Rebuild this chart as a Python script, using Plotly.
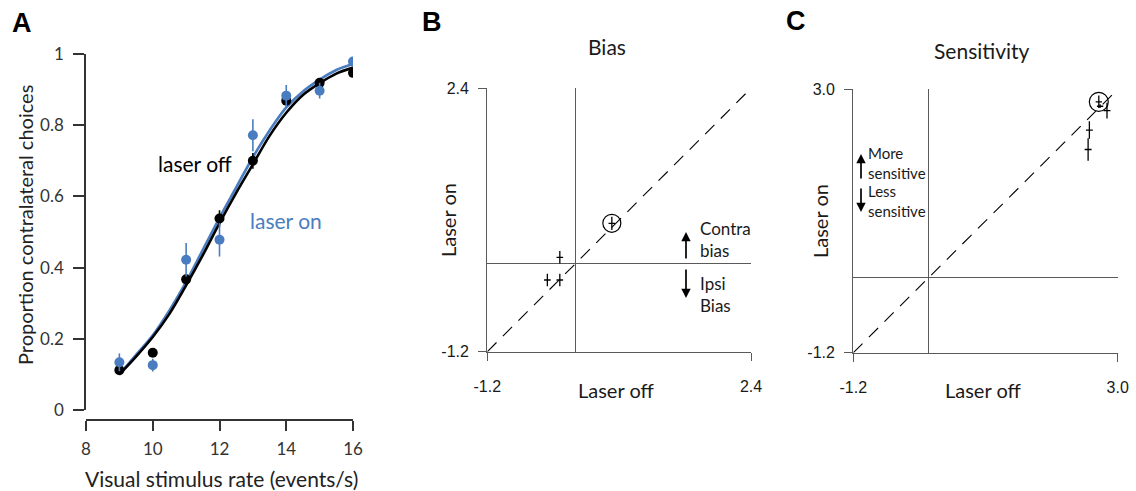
import plotly.graph_objects as go

W, H = 1136, 491

# ---------------- Panel A data ----------------
rates = [9, 10, 11, 12, 13, 14, 15, 16]
p_off = [0.112, 0.161, 0.367, 0.538, 0.700, 0.869, 0.919, 0.947]
p_off_err = [0.010, 0.010, 0.015, 0.023, 0.022, 0.012, 0.010, 0.008]
p_on = [0.134, 0.126, 0.422, 0.478, 0.772, 0.883, 0.897, 0.979]
p_on_err = [0.025, 0.018, 0.047, 0.047, 0.045, 0.030, 0.022, 0.010]

fit_rates = [9, 9.5, 10, 10.5, 11, 11.5, 12, 12.5, 13, 13.5, 14, 14.5, 15, 15.5, 16]
fit_off = [0.100, 0.150, 0.205, 0.270, 0.350, 0.435, 0.525, 0.610, 0.690, 0.770, 0.835, 0.885, 0.918, 0.945, 0.962]
fit_on = [0.100, 0.155, 0.210, 0.280, 0.360, 0.450, 0.540, 0.625, 0.710, 0.785, 0.850, 0.895, 0.928, 0.955, 0.972]

a_xticks = [8, 10, 12, 14, 16]
a_yticks = [0, 0.2, 0.4, 0.6, 0.8, 1]
a_yticklabels = ["0", "0.2", "0.4", "0.6", "0.8", "1"]

# ---------------- Panel B data (Bias) ----------------
bias_range = [-1.2, 2.4]
bias_off = [-0.21, -0.38, -0.21, 0.50]
bias_on = [0.09, -0.22, -0.22, 0.555]
bias_off_err = [0.045, 0.045, 0.045, 0.045]
bias_on_err = [0.085, 0.085, 0.085, 0.09]
bias_highlight = 3

# ---------------- Panel C data (Sensitivity) ----------------
sens_range = [-1.2, 3.0]
sens_off = [2.70, 2.72, 2.83, 2.55, 2.53]
sens_on = [2.80, 2.73, 2.66, 2.35, 2.04]
sens_off_err = [0.05, 0.05, 0.055, 0.055, 0.055]
sens_on_err = [0.10, 0.03, 0.125, 0.14, 0.18]
sens_highlight = 0

BLUE = "#4a7dc0"
GRAY = "#5a5a5a"
TXT = "#1a1a1a"
FONT = "Lato, Liberation Sans, Arial, sans-serif"
ARIAL = "Liberation Sans, Arial, sans-serif"


def px(x):
    return x / W


def py(y):
    return 1 - y / H


fig = go.Figure()

# Panel A: fitted curves
fig.add_trace(go.Scatter(x=fit_rates, y=fit_on, mode="lines", line=dict(color=BLUE, width=2.6, shape="spline"),
                         xaxis="x", yaxis="y", showlegend=False))
fig.add_trace(go.Scatter(x=fit_rates, y=fit_off, mode="lines", line=dict(color="black", width=2.6, shape="spline"),
                         xaxis="x", yaxis="y", showlegend=False))
# Panel A: data points
fig.add_trace(go.Scatter(x=rates, y=p_off, mode="markers", marker=dict(color="black", size=10),
                         error_y=dict(type="data", array=p_off_err, color="black", thickness=1.6, width=0),
                         xaxis="x", yaxis="y", showlegend=False))
fig.add_trace(go.Scatter(x=rates, y=p_on, mode="markers", marker=dict(color=BLUE, size=10),
                         error_y=dict(type="data", array=p_on_err, color=BLUE, thickness=1.6, width=0),
                         xaxis="x", yaxis="y", showlegend=False))

# Panel B
fig.add_trace(go.Scatter(x=bias_range, y=bias_range, mode="lines",
                         line=dict(color="black", width=1.1, dash="13px,9px"),
                         xaxis="x2", yaxis="y2", showlegend=False))
fig.add_trace(go.Scatter(x=bias_off, y=bias_on, mode="markers",
                         marker=dict(size=1, color="rgba(0,0,0,0)"),
                         error_x=dict(type="data", array=bias_off_err, color="black", thickness=1.3, width=0),
                         error_y=dict(type="data", array=bias_on_err, color="black", thickness=1.3, width=0),
                         xaxis="x2", yaxis="y2", showlegend=False))
fig.add_trace(go.Scatter(x=[bias_off[bias_highlight]], y=[bias_on[bias_highlight]], mode="markers",
                         marker=dict(symbol="circle-open", size=18, color="black", line=dict(width=1.2)),
                         xaxis="x2", yaxis="y2", showlegend=False))

# Panel C
fig.add_trace(go.Scatter(x=sens_range, y=sens_range, mode="lines",
                         line=dict(color="black", width=1.1, dash="13px,9px"),
                         xaxis="x3", yaxis="y3", showlegend=False))
fig.add_trace(go.Scatter(x=sens_off, y=sens_on, mode="markers",
                         marker=dict(size=1, color="rgba(0,0,0,0)"),
                         error_x=dict(type="data", array=sens_off_err, color="black", thickness=1.3, width=0),
                         error_y=dict(type="data", array=sens_on_err, color="black", thickness=1.3, width=0),
                         xaxis="x3", yaxis="y3", showlegend=False))
fig.add_trace(go.Scatter(x=[sens_off[sens_highlight]], y=[sens_on[sens_highlight]], mode="markers",
                         marker=dict(symbol="circle-open", size=19, color="black", line=dict(width=1.2)),
                         xaxis="x3", yaxis="y3", showlegend=False))

a_tickfont = dict(family=FONT, size=17, color="#333")
bc_tickfont = dict(family=ARIAL, size=16, color=TXT)

fig.update_layout(
    width=W, height=H,
    margin=dict(l=0, r=0, t=0, b=0, pad=0, autoexpand=False),
    paper_bgcolor="white", plot_bgcolor="white",
    xaxis=dict(domain=[px(86), px(353)], range=[8, 16], anchor="free", position=py(420),
               tickvals=a_xticks, ticks="outside", ticklen=10, tickwidth=1.5, tickcolor="#333",
               showline=True, linecolor="#333", linewidth=1.5, showgrid=False, zeroline=False,
               tickfont=a_tickfont, ticklabelstandoff=4, automargin=False),
    yaxis=dict(domain=[py(410), py(54)], range=[0, 1], anchor="x",
               tickvals=a_yticks, ticktext=a_yticklabels, ticks="outside", ticklen=11, tickwidth=1.5,
               tickcolor="#333", showline=True, linecolor="#333", linewidth=1.5, showgrid=False,
               zeroline=False, tickfont=a_tickfont, ticklabelstandoff=6, automargin=False),
    xaxis2=dict(domain=[px(487.3), px(751)], range=bias_range, anchor="y2",
                tickvals=bias_range, ticktext=["-1.2", "2.4"], ticks="outside", ticklen=8, tickcolor=GRAY,
                showline=True, linecolor=GRAY, linewidth=1.3, showgrid=False,
                zeroline=True, zerolinecolor=GRAY, zerolinewidth=1.3, tickfont=bc_tickfont,
                ticklabelstandoff=12, automargin=False),
    yaxis2=dict(domain=[py(351.7), py(88.3)], range=bias_range, anchor="x2",
                tickvals=bias_range, ticktext=["-1.2", "2.4"], ticks="outside", ticklen=8, tickcolor=GRAY,
                showline=True, linecolor=GRAY, linewidth=1.3, showgrid=False,
                zeroline=True, zerolinecolor=GRAY, zerolinewidth=1.3, tickfont=bc_tickfont,
                ticklabelstandoff=6, automargin=False),
    xaxis3=dict(domain=[px(853.3), px(1117.7)], range=sens_range, anchor="y3",
                tickvals=sens_range, ticktext=["-1.2", "3.0"], ticks="outside", ticklen=8, tickcolor=GRAY,
                showline=True, linecolor=GRAY, linewidth=1.3, showgrid=False,
                zeroline=True, zerolinecolor=GRAY, zerolinewidth=1.3, tickfont=bc_tickfont,
                ticklabelstandoff=12, automargin=False),
    yaxis3=dict(domain=[py(352.7), py(89.3)], range=sens_range, anchor="x3",
                tickvals=sens_range, ticktext=["-1.2", "3.0"], ticks="outside", ticklen=8, tickcolor=GRAY,
                showline=True, linecolor=GRAY, linewidth=1.3, showgrid=False,
                zeroline=True, zerolinecolor=GRAY, zerolinewidth=1.3, tickfont=bc_tickfont,
                ticklabelstandoff=6, automargin=False),
)


def text(t, x, y, size, color=TXT, family=FONT, angle=0, xanchor="center", bold=False):
    fig.add_annotation(text=("<b>%s</b>" % t) if bold else t, x=px(x), y=py(y), xref="paper", yref="paper",
                       showarrow=False, xanchor=xanchor, yanchor="middle", textangle=angle, borderpad=0,
                       align="left", font=dict(family=family, size=size, color=color))


def arrow(x, y_head, y_tail):
    fig.add_annotation(x=px(x), y=py(y_head), xref="paper", yref="paper", text="",
                       showarrow=True, ax=0, ay=y_tail - y_head, axref="pixel", ayref="pixel",
                       arrowhead=2, arrowsize=1.1, arrowwidth=1.7, arrowcolor="black")


# Panel labels
text("A", 22, 23, 27, color="black", family=ARIAL, bold=True)
text("B", 432, 22, 27, color="black", family=ARIAL, bold=True)
text("C", 796, 21, 27, color="black", family=ARIAL, bold=True)

# Panel A texts
text("laser off", 195, 163, 21, color="black")
text("laser on", 286, 220, 21, color=BLUE)
text("Proportion contralateral choices", 25, 225, 20, color="#222", angle=-90)
text("Visual stimulus rate (events/s)", 221, 478, 21, color="#222")

# Panel B texts
text("Bias", 607, 47, 21)
text("Laser on", 448, 220, 20, angle=-90)
text("Laser off", 616, 390, 20)
text("Contra<br>bias", 699, 239, 17, xanchor="left")
text("Ipsi<br>Bias", 699, 294, 17, xanchor="left")
arrow(686, 232, 260)
arrow(686, 298, 268)

# Panel C texts
text("Sensitivity", 982, 50, 21)
text("Laser on", 820, 221, 20, angle=-90)
text("Laser off", 983, 390, 20)
text("More<br>sensitive", 867, 162.5, 15, xanchor="left")
text("Less<br>sensitive", 867, 200.5, 15, xanchor="left")
arrow(861, 154, 180)
arrow(861, 212, 187)

fig.write_html("out.html", config={"displayModeBar": False},
               post_script="document.body.style.margin='0px';document.body.style.overflow='hidden';")
